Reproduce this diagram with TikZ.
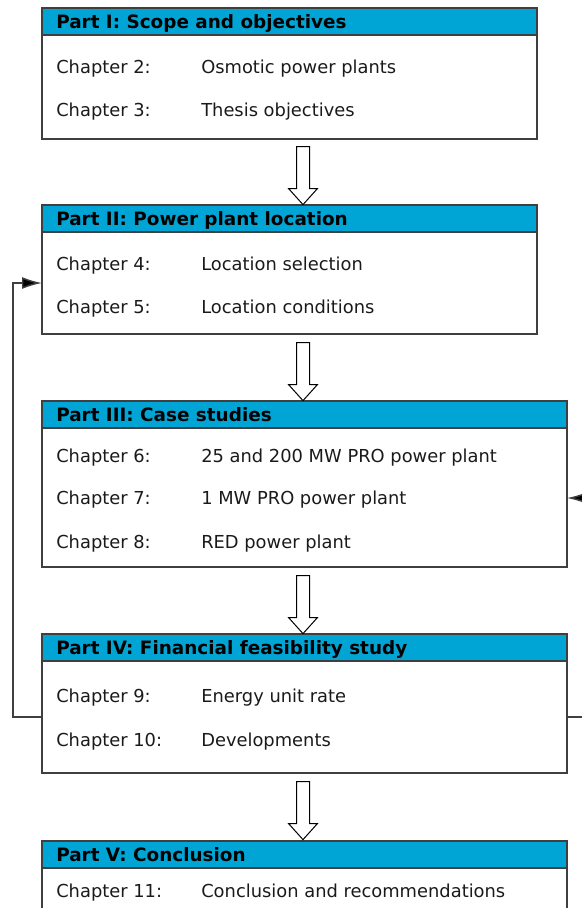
\documentclass[tikz,border=0pt]{standalone}
\usepackage{fontspec}
\setmainfont{DejaVu Sans}
\usetikzlibrary{positioning, arrows.meta, shapes.arrows}
\definecolor{thdark}{HTML}{3F3F3F}
\definecolor{thblue}{HTML}{00A5D5}
\definecolor{thtext}{HTML}{1A1A1A}

\begin{document}
\begin{tikzpicture}[x=0.75pt, y=-0.75pt,
    font=\fontsize{13.4}{16}\selectfont,
    partbox/.style={draw=thdark, line width=1.5pt, anchor=north west,
      inner sep=0pt, outer sep=0pt},
    parthead/.style={partbox, fill=thblue, minimum height=20.25pt},
    parttitle/.style={anchor=base west, inner sep=0pt, text=black,
      font=\fontsize{13.8}{16}\selectfont\bfseries},
    chap/.style={anchor=base west, inner sep=0pt, text=thtext},
    hollow/.style={single arrow, draw=black, line width=0.75pt, fill=white,
      rotate=-90, minimum height=43.5pt, inner sep=4.5pt,
      single arrow head extend=6pt, single arrow tip angle=84},
    fb/.style={draw=thdark, line width=1.1pt},
    fbtip/.style={-{Latex[length=15pt, width=9pt, fill=black]}}]
  \useasboundingbox (0,0) rectangle (582,908);
  % parts: body, header bar, title
  \foreach \i/\y/\w/\h/\t in {
      1/8/371.25/98.25/{Part I: Scope and objectives},
      2/205/371.25/96.75/{Part II: Power plant location},
      3/401/393.75/124.5/{Part III: Case studies},
      4/634/393.75/104.25/{Part IV: Financial feasibility study},
      5/841/393.75/97.5/{Part V: Conclusion}} {
    \node[partbox, minimum width=\w pt, minimum height=\h pt] (b\i) at (42,\y) {};
    \node[parthead, minimum width=\w pt] (h\i) at (42,\y) {};
    \node[parttitle] (t\i) at (56,\y+20.5) {\t};
  }
  % chapters
  \foreach \y/\c/\t in {
      73/2/Osmotic power plants, 116/3/Thesis objectives,
      270/4/Location selection, 313/5/Location conditions,
      462/6/25 and 200 MW PRO power plant, 504/7/1 MW PRO power plant,
      548/8/RED power plant,
      702/9/Energy unit rate, 746/10/Developments,
      897/11/Conclusion and recommendations} {
    \node[chap] (ch\c) at (56,\y) {Chapter \c:};
    \node[chap] (tx\c) at (201,\y) {\t};
  }
  % hollow arrows between parts
  \foreach \i/\y in {1/172, 2/368, 3/601, 4/807}
    \node[hollow] (a\i) at (303,\y) {};
  % feedback lines
  \coordinate (lo) at (13,717);
  \coordinate (hi) at (13,283);
  \coordinate (ro) at (600,717);
  \coordinate (ri) at (600,498);
  \draw[fb, fbtip] (b4.west |- lo) -- (lo) -- (hi) -- (b2.west |- hi);
  \draw[fb, fbtip] (b4.east |- ro) -- (ro) -- (ri) -- (b3.east |- ri);
\end{tikzpicture}
\end{document}
